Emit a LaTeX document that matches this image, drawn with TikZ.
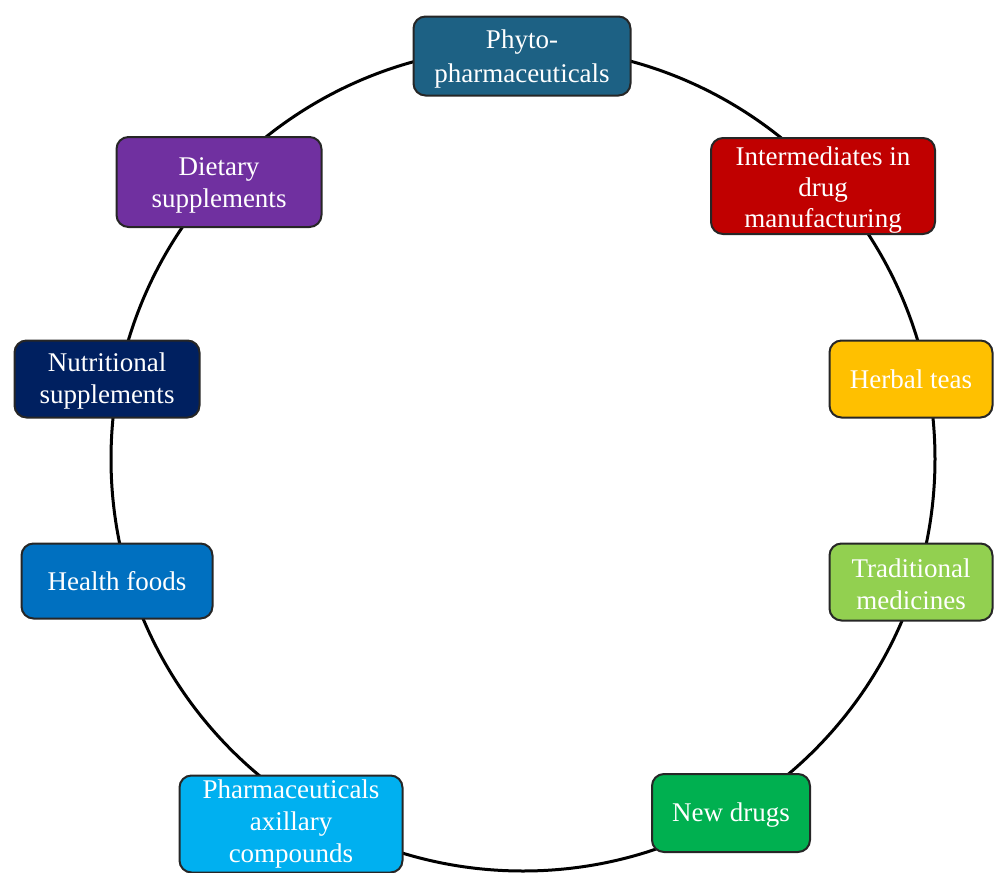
\documentclass[tikz,border=0pt]{standalone}
\usepackage{fontspec}
\setmainfont{Liberation Serif}
\definecolor{cPhyto}{HTML}{1D6184}
\definecolor{cInter}{HTML}{C00000}
\definecolor{cHerbal}{HTML}{FFC000}
\definecolor{cTrad}{HTML}{92D050}
\definecolor{cNew}{HTML}{00B050}
\definecolor{cPharma}{HTML}{00B0F0}
\definecolor{cHealth}{HTML}{0070C0}
\definecolor{cNutri}{HTML}{002060}
\definecolor{cDiet}{HTML}{7030A0}
\definecolor{cEdge}{HTML}{262626}
\newcommand{\topstrut}[1]{\rule{0pt}{#1}}
\tikzset{
  box/.style={draw=cEdge, line width=2pt, rounded corners=12pt, align=center,
    inner sep=0pt, text=white,
    font=\fontsize{27}{32.5}\selectfont},
  ring/.style={draw=black, line width=3pt}
}
\begin{document}
\begin{tikzpicture}[x=1pt,y=-1pt]
\useasboundingbox (0,0) rectangle (994,873);
\draw[ring] (523,459) circle[radius=412];
\node[box, fill=cPhyto, minimum width=217pt, minimum height=79pt,
  font=\fontsize{27}{34}\selectfont] (phyto) at (522,56) {\topstrut{24pt}Phyto-\\pharmaceuticals};
\node[box, fill=cInter, minimum width=224pt, minimum height=96pt,
  font=\fontsize{27}{31}\selectfont] (inter) at (823,186) {\topstrut{27pt}Intermediates in\\drug\\manufacturing};
\node[box, fill=cHerbal, minimum width=163pt, minimum height=77pt] (herbal) at (911,379) {Herbal teas};
\node[box, fill=cTrad, minimum width=163pt, minimum height=77pt] (trad) at (911,582) {\topstrut{23pt}Traditional\\medicines};
\node[box, fill=cNew, minimum width=158pt, minimum height=78pt] (newd) at (731,813) {\topstrut{22pt}New drugs};
\node[box, fill=cPharma, minimum width=223pt, minimum height=97pt,
  font=\fontsize{27}{32}\selectfont] (pharma) at (291,824) {Pharmaceuticals\\axillary\\compounds};
\node[box, fill=cHealth, minimum width=191pt, minimum height=75pt] (health) at (117,581) {Health foods};
\node[box, fill=cNutri, minimum width=185pt, minimum height=77pt] (nutri) at (107,379) {\topstrut{23pt}Nutritional\\supplements};
\node[box, fill=cDiet, minimum width=205pt, minimum height=90pt,
  font=\fontsize{27}{32}\selectfont] (diet) at (219,182) {\topstrut{25pt}Dietary\\supplements};
\end{tikzpicture}
\end{document}
